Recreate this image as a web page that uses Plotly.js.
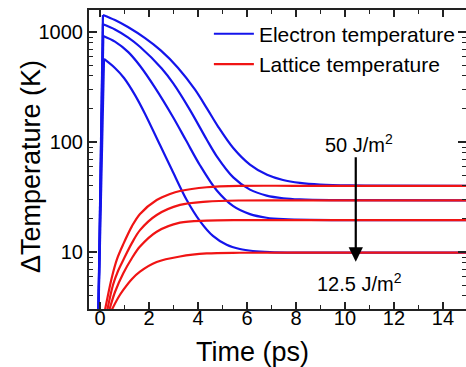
<!DOCTYPE html>
<html>
<head>
<meta charset="utf-8">
<script src="https://cdn.plot.ly/plotly-3.0.1.min.js"></script>
<style>html,body{margin:0;padding:0;background:#fff;}#chart{width:466px;height:367px;}</style>
</head>
<body>
<div id="chart"></div>
<script>
// Fluence labels
const fluences = ["50 J/m²", "37.5 J/m²", "25 J/m²", "12.5 J/m²"];
const legendNames = ["Electron temperature", "Lattice temperature"];

// Electron temperature (K) vs time (ps); first point is the rising edge start (below axis)
const tE50 = [-0.07, 0.12, 0.61, 1.14, 1.84, 2.49, 3.18, 3.88, 4.37, 4.82, 5.43, 6.12, 6.82, 7.47, 8.16, 8.98, 10.2, 15];
const TE50 = [2.41, 1430, 1285, 1109, 879, 677, 474, 299, 201, 138, 88.6, 62.3, 50.3, 45.1, 42.5, 41.05, 40.3, 40.0];

const tE37 = [-0.07, 0.12, 0.61, 1.14, 1.63, 2.52, 2.99, 3.67, 4.36, 4.76, 5.44, 6.12, 6.80, 7.48, 8.16, 9.39, 15];
const TE37 = [2.41, 1175, 1055, 894, 735, 466, 341, 196, 104.8, 74.5, 47.7, 36.9, 32.6, 30.8, 30.05, 29.6, 29.5];

const tE25 = [-0.07, 0.135, 0.61, 1.155, 1.63, 2.245, 2.99, 3.51, 4.08, 4.76, 5.44, 6.12, 6.80, 7.48, 8.57, 15];
const TE25 = [2.41, 920, 817, 656, 493, 312, 167, 103.6, 61.5, 36.4, 26.1, 22.1, 20.5, 19.9, 19.6, 19.5];

const tE12 = [-0.07, 0.163, 0.61, 0.98, 1.43, 1.84, 2.45, 2.94, 3.54, 4.08, 4.61, 5.17, 5.71, 6.24, 6.94, 8, 15];
const TE12 = [2.41, 569, 471, 382, 267, 180, 93.8, 55.6, 29.7, 19.1, 14.0, 11.63, 10.64, 10.21, 9.98, 9.88, 9.86];

// Lattice temperature (K) vs time (ps)
const tL50 = [0.204, 0.478, 0.694, 0.951, 1.306, 1.633, 2.314, 2.857, 3.265, 4.355, 5.71, 8, 15];
const TL50 = [2.97, 5.81, 8.63, 11.8, 17.2, 22.2, 29.7, 33.7, 35.9, 38.8, 39.9, 40, 40];

const tL37 = [0.298, 0.53, 0.735, 0.951, 1.306, 1.633, 2.314, 3.265, 4.355, 5.71, 8, 15];
const TL37 = [2.97, 5.01, 6.72, 8.46, 12.1, 15.8, 21.7, 26.8, 28.7, 29.4, 29.5, 29.5];

const tL25 = [0.38, 0.612, 0.951, 1.306, 1.633, 2.314, 3.265, 4.355, 5.71, 8, 15];
const TL25 = [2.97, 4.33, 6.4, 8.82, 11.2, 15.3, 18.5, 19.3, 19.5, 19.5, 19.5];

const tL12 = [0.478, 0.735, 0.951, 1.306, 1.633, 2.314, 3.265, 4.355, 5.71, 8, 15];
const TL12 = [2.97, 3.82, 4.52, 5.69, 6.63, 8.11, 9.1, 9.7, 9.85, 9.86, 9.86];

// Axis ticks
const xTickVals = [0, 2, 4, 6, 8, 10, 12, 14];
const yTickVals = [10, 100, 1000];
const yTickText = ["10", "100", "1000"];
const yMinorVals = [3,4,5,6,7,8,9,20,30,40,50,60,70,80,90,200,300,400,500,600,700,800,900];

// Arrow annotation (time, temperatures)
const arrowTime = 10.44;
const arrowFrom = 75;
const arrowTo = 8.17;
const labelTop = 97.7;
const labelBottom = 5.33;

const BLUE = 'rgb(20,20,235)';
const RED = 'rgb(240,20,20)';

const eT = [tE50, tE37, tE25, tE12];
const eV = [TE50, TE37, TE25, TE12];
const lT = [tL50, tL37, tL25, tL12];
const lV = [TL50, TL37, TL25, TL12];

const traces = [];
eT.forEach((t, i) => {
  traces.push({x: t.slice(0, 2), y: eV[i].slice(0, 2), mode: 'lines', line: {color: BLUE, width: 2.2}, showlegend: false, hoverinfo: 'skip'});
  traces.push({x: t.slice(1), y: eV[i].slice(1), mode: 'lines', name: legendNames[0], legendgroup: 'e',
    line: {color: BLUE, width: 2.2, shape: 'spline', smoothing: 0.9}, showlegend: i === 0});
});
lT.forEach((t, i) => {
  traces.push({x: t, y: lV[i], mode: 'lines', name: legendNames[1], legendgroup: 'l',
    line: {color: RED, width: 2.2, shape: 'spline', smoothing: 0.9}, showlegend: i === 0});
});

const FONT = 'Liberation Sans, Arial, sans-serif';

const layout = {
  width: 466, height: 367,
  margin: {l: 89, r: 0, t: 10, b: 58},
  paper_bgcolor: '#fff', plot_bgcolor: '#fff',
  font: {family: FONT, color: '#000', size: 20},
  showlegend: true,
  legend: {x: 0.318, y: 0.988, xanchor: 'left', yanchor: 'top', bgcolor: 'rgba(0,0,0,0)',
    font: {family: FONT, size: 21, color: '#000'}, tracegroupgap: 0, itemwidth: 40},
  xaxis: {
    range: [-0.449, 14.94], showgrid: false, zeroline: false,
    showline: true, linecolor: '#222', linewidth: 2, mirror: 'allticks',
    ticks: 'inside', ticklen: 7, tickwidth: 1.5, tickcolor: '#222',
    tickmode: 'array', tickvals: xTickVals, tickfont: {size: 20}, ticklabelstandoff: -10,
    minor: {dtick: 1, ticks: 'inside', ticklen: 4, tickwidth: 1.5, tickcolor: '#222', showgrid: false}
  },
  yaxis: {
    type: 'log', range: [0.482, 3.2], showgrid: false, zeroline: false,
    showline: true, linecolor: '#222', linewidth: 2, mirror: 'ticks',
    ticks: 'inside', ticklen: 8, tickwidth: 1.5, tickcolor: '#222',
    tickmode: 'array', tickvals: yTickVals, ticktext: yTickText, tickfont: {size: 20},
    minor: {tickmode: 'array', tickvals: yMinorVals, ticks: 'inside', ticklen: 4, tickwidth: 1, tickcolor: '#222', showgrid: false}
  },
  annotations: [
    {x: arrowTime, y: Math.log10(arrowTo), ax: arrowTime, ay: Math.log10(arrowFrom), axref: 'x', ayref: 'y',
      xref: 'x', yref: 'y', text: '', showarrow: true, arrowhead: 2, arrowsize: 1.3, arrowwidth: 2.2, arrowcolor: '#000', standoff: 0, startstandoff: 0},
    {x: arrowTime + 0.15, y: Math.log10(labelTop), xref: 'x', yref: 'y', text: '50 J/m<sup>2</sup>', showarrow: false,
      font: {size: 20, color: '#000'}},
    {x: arrowTime + 0.15, y: Math.log10(labelBottom), xref: 'x', yref: 'y', text: '12.5 J/m<sup>2</sup>', showarrow: false,
      font: {size: 20, color: '#000'}},
    {x: 0.435, y: -0.144, xref: 'paper', yref: 'paper', xanchor: 'center', yanchor: 'middle', text: 'Time (ps)',
      showarrow: false, font: {size: 27, color: '#000'}},
    {x: -0.154, y: 0.478, xref: 'paper', yref: 'paper', xanchor: 'center', yanchor: 'middle', text: 'ΔTemperature (K)',
      textangle: -90, showarrow: false, font: {size: 27, color: '#000'}}
  ]
};

Plotly.newPlot('chart', traces, layout, {displayModeBar: false, staticPlot: true});
</script>
</body>
</html>
